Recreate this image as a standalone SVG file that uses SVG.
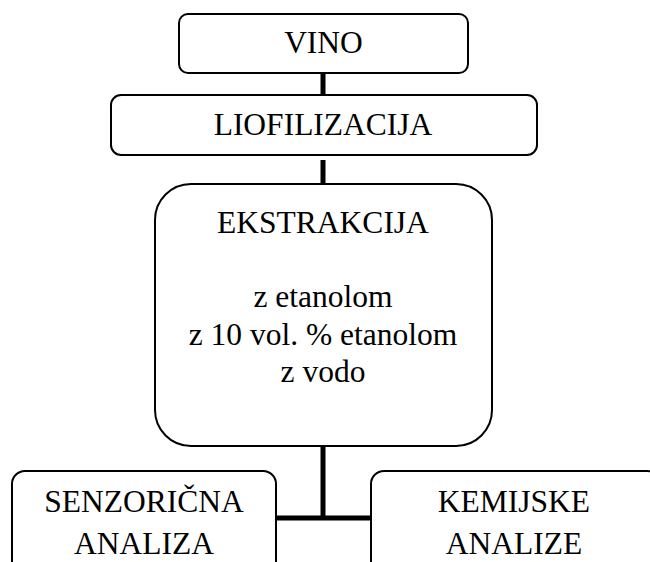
<svg xmlns="http://www.w3.org/2000/svg" width="650" height="562" viewBox="0 0 650 562">
<style>
.box{fill:#fff;stroke:#000;stroke-width:2}
.t{font-size:31.5px;fill:#000;text-anchor:middle}
.c{stroke:#000;stroke-width:5;fill:none}
</style>
<rect width="650" height="562" fill="#fff"/>
<g id="connectors">
<line class="c" x1="323" y1="73" x2="323" y2="95"/>
<line class="c" x1="323" y1="160" x2="323" y2="184"/>
<line class="c" x1="323" y1="446" x2="323" y2="518"/>
<line class="c" x1="276" y1="518" x2="371" y2="518"/>
</g>
<g id="vino">
<rect class="box" x="179" y="14" width="289" height="59" rx="9"/>
<text class="t" font-family="Liberation Serif" x="323.5" y="53">VINO</text>
</g>
<g id="liofilizacija">
<rect class="box" x="111" y="95" width="426" height="60" rx="10"/>
<text class="t" font-family="Liberation Serif" x="323" y="135">LIOFILIZACIJA</text>
</g>
<g id="ekstrakcija">
<rect class="box" x="155" y="184" width="337" height="262" rx="36"/>
<text class="t" font-family="Liberation Serif" x="323" y="233">EKSTRAKCIJA</text>
<text class="t" font-family="Liberation Serif" x="323" y="307">z etanolom</text>
<text class="t" font-family="Liberation Serif" x="323" y="345">z 10 vol. % etanolom</text>
<text class="t" font-family="Liberation Serif" x="323" y="382">z vodo</text>
</g>
<g id="senzoricna">
<rect class="box" x="12" y="471" width="264" height="110" rx="13"/>
<text class="t" font-family="Liberation Serif" x="144" y="512">SENZORIČNA</text>
<text class="t" font-family="Liberation Serif" x="144" y="554">ANALIZA</text>
</g>
<g id="kemijske">
<rect class="box" x="371" y="471" width="289" height="110" rx="13"/>
<text class="t" font-family="Liberation Serif" x="514" y="512">KEMIJSKE</text>
<text class="t" font-family="Liberation Serif" x="514" y="554">ANALIZE</text>
</g>
</svg>
